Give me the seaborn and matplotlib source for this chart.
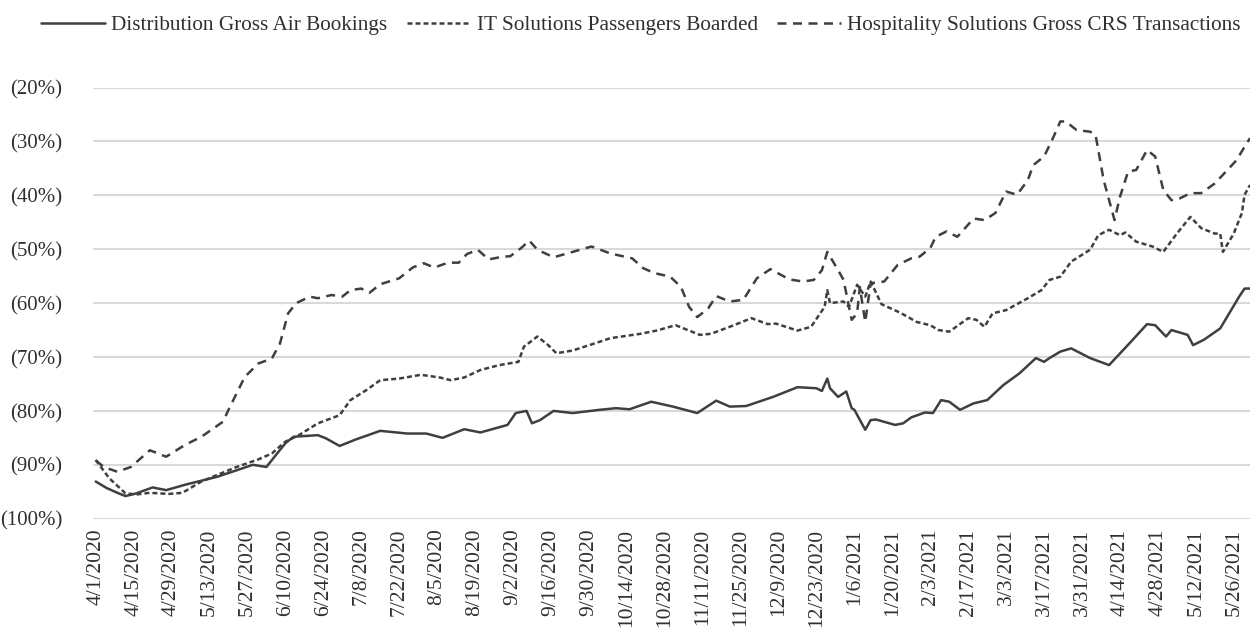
import pandas as pd
import seaborn as sns
import matplotlib.pyplot as plt
from matplotlib.ticker import FuncFormatter, FixedLocator

# days since 4/1/2020 and % change vs 2019
dist_days = [0, 4, 8, 11, 15, 21, 26, 33, 45, 58, 63, 66, 70, 73, 82, 85, 90, 96,
             105, 115, 122, 128, 136, 142, 152, 155, 159, 161, 164, 169, 176, 186,
             192, 197, 205, 213, 222, 229, 234, 240, 250, 259, 266, 268, 270, 271,
             274, 277, 279, 280, 284, 286, 288, 295, 298, 301, 306, 309, 312, 315,
             319, 324, 329, 335, 341, 347, 350, 352, 356, 360, 367, 374, 382, 388,
             391, 395, 397, 403, 405, 409, 415, 422, 424, 426]
dist_vals = [-93.1, -94.3, -95.2, -95.8, -95.3, -94.2, -94.7, -93.7, -92.2, -90.0,
             -90.4, -88.5, -86.0, -84.8, -84.5, -85.1, -86.5, -85.3, -83.7, -84.2,
             -84.2, -85.0, -83.4, -84.0, -82.6, -80.4, -80.0, -82.3, -81.7, -80.0,
             -80.4, -79.8, -79.5, -79.7, -78.3, -79.2, -80.4, -78.1, -79.2, -79.1,
             -77.4, -75.6, -75.8, -76.3, -74.0, -75.8, -77.4, -76.4, -79.5, -79.8,
             -83.5, -81.7, -81.6, -82.6, -82.3, -81.2, -80.3, -80.4, -78.0, -78.3,
             -79.8, -78.6, -78.0, -75.2, -73.0, -70.2, -70.9, -70.2, -69.0, -68.4,
             -70.2, -71.5, -67.2, -63.9, -64.1, -66.2, -65.0, -65.9, -67.8, -66.8,
             -64.7, -58.8, -57.3, -57.3]

it_days = [0, 5, 11, 15, 20, 27, 32, 39, 52, 60, 65, 70, 75, 82, 90, 94, 100, 105,
           112, 120, 127, 131, 136, 142, 149, 156, 158, 163, 167, 170, 176, 184,
           190, 201, 207, 214, 223, 227, 234, 242, 248, 251, 259, 264, 269, 270,
           271, 276, 278, 281, 284, 286, 290, 297, 303, 308, 311, 315, 322, 325,
           328, 331, 336, 344, 349, 352, 356, 360, 367, 370, 374, 378, 380, 384,
           390, 394, 399, 404, 408, 413, 415, 416, 420, 423, 424, 426]
it_vals = [-89.1, -92.5, -95.3, -95.5, -95.2, -95.4, -95.2, -93.1, -90.4, -89.0,
           -87.9, -85.7, -84.5, -82.3, -80.8, -78.0, -76.1, -74.3, -74.0, -73.3,
           -73.8, -74.3, -73.8, -72.4, -71.5, -70.9, -68.1, -66.2, -67.8, -69.3,
           -68.8, -67.5, -66.5, -65.7, -65.1, -64.1, -65.9, -65.7, -64.4, -62.8,
           -63.9, -63.8, -65.1, -64.4, -60.7, -57.6, -60.0, -59.7, -60.7, -56.6,
           -58.8, -56.0, -60.2, -61.8, -63.5, -64.1, -65.0, -65.3, -62.8, -63.1,
           -64.4, -61.9, -61.3, -59.1, -57.6, -55.7, -55.1, -52.3, -50.1, -47.4,
           -46.4, -47.4, -46.9, -48.6, -49.5, -50.5, -47.1, -44.0, -46.1, -47.1,
           -47.1, -50.5, -47.1, -43.3, -39.9, -38.1]

hosp_days = [0, 3, 8, 13, 20, 26, 33, 39, 47, 49, 55, 60, 65, 68, 71, 74, 79, 82,
             87, 91, 94, 98, 101, 105, 112, 117, 121, 125, 130, 134, 137, 141, 145,
             150, 153, 157, 160, 163, 169, 176, 183, 190, 198, 202, 206, 212, 216,
             219, 222, 226, 229, 234, 239, 244, 249, 256, 261, 265, 268, 270, 274,
             276, 278, 279, 281, 282, 284, 286, 291, 296, 301, 304, 308, 310, 314,
             318, 324, 328, 332, 336, 340, 344, 346, 350, 353, 356, 358, 362, 367,
             369, 372, 376, 378, 381, 384, 388, 391, 394, 397, 400, 404, 408, 413,
             416, 421, 424, 426]
hosp_vals = [-89.2, -90.4, -91.3, -90.4, -87.3, -88.5, -86.3, -84.8, -82.0, -79.8,
             -73.7, -71.2, -70.3, -67.5, -61.9, -60.0, -58.8, -59.1, -58.5, -58.8,
             -57.6, -57.3, -58.1, -56.5, -55.4, -53.4, -52.6, -53.4, -52.5, -52.5,
             -50.9, -50.1, -51.9, -51.4, -51.3, -49.8, -48.4, -50.1, -51.5, -50.5,
             -49.5, -50.8, -51.7, -53.5, -54.4, -55.1, -57.0, -60.7, -62.6, -61.0,
             -58.7, -59.7, -59.4, -55.4, -53.7, -55.6, -56.0, -55.7, -53.9, -50.5,
             -53.9, -55.7, -60.7, -63.1, -61.9, -57.0, -63.5, -56.3, -56.0, -52.9,
             -51.7, -51.4, -49.8, -47.7, -46.7, -47.7, -44.3, -44.6, -43.3, -39.3,
             -39.9, -37.2, -34.4, -32.8, -29.7, -26.3, -26.3, -27.9, -28.2, -28.8,
             -37.2, -44.6, -40.3, -35.6, -35.3, -31.6, -32.8, -39.0, -40.9, -40.6,
             -39.6, -39.6, -37.8, -36.2, -33.5, -31.0, -29.4]

series_names = ['Distribution Gross Air Bookings',
                'IT Solutions Passengers Boarded',
                'Hospitality Solutions Gross CRS Transactions']

start = pd.Timestamp('2020-04-01')


def to_frame(days, vals, name):
    return pd.DataFrame({'date': start + pd.to_timedelta(days, unit='D'),
                         'value': vals, 'series': name})


df = pd.concat([to_frame(dist_days, dist_vals, series_names[0]),
                to_frame(it_days, it_vals, series_names[1]),
                to_frame(hosp_days, hosp_vals, series_names[2])])

sns.set_theme(style='white')
plt.rcParams['font.family'] = ['Liberation Serif', 'DejaVu Serif']

fig = plt.figure(figsize=(12.5, 6.28), dpi=100)
ax = fig.add_axes([93 / 1250, 1 - 518.7 / 628, 1157 / 1250, (518.7 - 87.5) / 628])

line_color = '#3f3f3f'
dash_styles = {series_names[0]: '',
               series_names[1]: (2.0, 1.2),
               series_names[2]: (3.6, 2.6)}
sns.lineplot(data=df, x='date', y='value', hue='series', style='series',
             palette=[line_color] * 3, dashes=dash_styles, linewidth=1.8,
             ax=ax, legend=False)

ax.set_ylim(-100, -20)
ax.set_xlim(start - pd.Timedelta(days=1), start + pd.Timedelta(days=426))

ax.yaxis.set_major_locator(FixedLocator(list(range(-100, -19, 10))))
ax.yaxis.set_major_formatter(FuncFormatter(lambda v, p: f'({abs(v):.0f}%)'))
ax.grid(axis='y', color='#d9d9d9', linewidth=1.5)
ax.set_axisbelow(True)

ticks = pd.date_range('2020-04-01', '2021-05-26', freq='14D')
ax.set_xticks(ticks)
ax.set_xticklabels([f'{t.month}/{t.day}/{t.year}' for t in ticks],
                   rotation=90, va='top', ha='center')

ax.tick_params(axis='y', labelsize=15, pad=22, length=0, colors='#303030')
ax.tick_params(axis='x', labelsize=15.5, pad=7, length=0, colors='#303030')
for lab in ax.get_yticklabels():
    lab.set_horizontalalignment('right')

ax.set_xlabel('')
ax.set_ylabel('')
for s in ax.spines.values():
    s.set_visible(False)

handles = ax.get_lines()[:3]
fig.legend(handles, series_names, loc='center', bbox_to_anchor=(641 / 1250, 1 - 25 / 628),
           ncol=3, frameon=False, fontsize=15.3, handlelength=3.0,
           columnspacing=0.9, handletextpad=0.3, labelcolor='#303030')

fig.savefig('out.png', dpi=100)
